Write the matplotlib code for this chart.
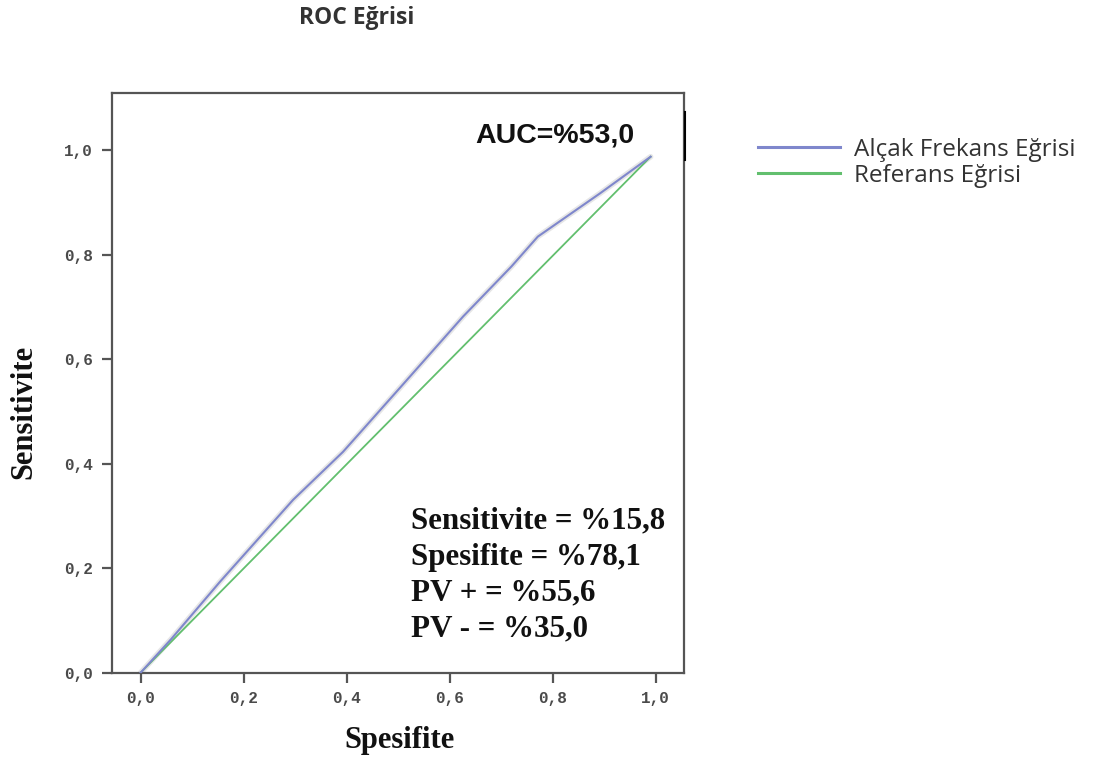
import matplotlib.pyplot as plt
from matplotlib.lines import Line2D

# ROC curve points
spec = [0.0, 0.06, 0.154, 0.296, 0.393, 0.503, 0.626, 0.720, 0.771, 0.892, 0.99]
sens = [0.0, 0.065, 0.174, 0.331, 0.423, 0.545, 0.682, 0.778, 0.835, 0.918, 0.988]
ref_x = [0.0, 0.99]
ref_y = [0.0, 0.988]

ticks = [0.0, 0.2, 0.4, 0.6, 0.8, 1.0]
tick_labels = ["0,0", "0,2", "0,4", "0,6", "0,8", "1,0"]

stats = ["Sensitivite = %15,8", "Spesifite = %78,1", "PV + = %55,6", "PV - = %35,0"]
auc_text = "AUC=%53,0"

blue = "#7f87cc"
green = "#62bf6e"

fig = plt.figure(figsize=(11.05, 7.58), dpi=100)
ax = fig.add_axes([0.1011, 0.1125, 0.518, 0.7648])

ax.plot(spec, sens, color="#e6e6e6", lw=4, solid_capstyle="round", zorder=1)
ax.plot(ref_x, ref_y, color=green, lw=1.3, zorder=2)
ax.plot(spec, sens, color=blue, lw=1.5, zorder=3)

ax.set_xlim(-0.056, 1.055)
ax.set_ylim(0.0, 1.11)
ax.set_xticks(ticks)
ax.set_xticklabels(tick_labels)
ax.set_yticks(ticks)
ax.set_yticklabels(tick_labels)
for lab in ax.get_xticklabels() + ax.get_yticklabels():
    lab.set_family("Liberation Mono")
    lab.set_fontsize(11.5)
    lab.set_fontweight("bold")
    lab.set_color("#4a4a4a")
ax.tick_params(direction="out", length=7.5, width=1.6, color="#555555", pad=6)

for s in ax.spines.values():
    s.set_color("#555555")
    s.set_linewidth(1.6)

ax.set_xlabel("Spesifite", family="Liberation Serif", fontweight="bold",
              fontsize=22, color="#111111")
ax.xaxis.set_label_coords(0.503, -0.092)
ax.set_ylabel("Sensitivite", family="Liberation Serif", fontweight="bold",
              fontsize=22, color="#111111")
ax.yaxis.set_label_coords(-0.128, 0.45)

ax.text(0.649, 1.015, auc_text, family="Liberation Sans", fontweight="bold",
        fontsize=20.5, ha="left", va="baseline", color="#111111")

for i, line in enumerate(stats):
    ax.text(0.525, 0.276 - 0.069 * i, line, family="Liberation Serif",
            fontweight="bold", fontsize=22.3, ha="left", va="baseline", color="#111111")

fig.text(357 / 1105, 1 - 18 / 758, "ROC Eğrisi", family="Open Sans",
         fontweight="bold", fontsize=16.5, ha="center", va="center", color="#333333")

# legend drawn outside the axes
handles = [Line2D([], [], color=blue, lw=2.2), Line2D([], [], color=green, lw=2.2)]
fig.legend(handles, ["Alçak Frekans Eğrisi", "Referans Eğrisi"],
           loc="upper left", bbox_to_anchor=(0.677, 0.831), frameon=False,
           prop={"family": "Open Sans", "size": 17.5}, handlelength=3.4,
           handletextpad=0.55, labelspacing=0.08, borderaxespad=0, labelcolor="#333333")

# dark mark at the top-right edge of the frame
fig.add_artist(Line2D([685 / 1105, 685 / 1105], [1 - 112 / 758, 1 - 160 / 758],
                      color="black", lw=1.5))

fig.savefig("out.png", dpi=100)
